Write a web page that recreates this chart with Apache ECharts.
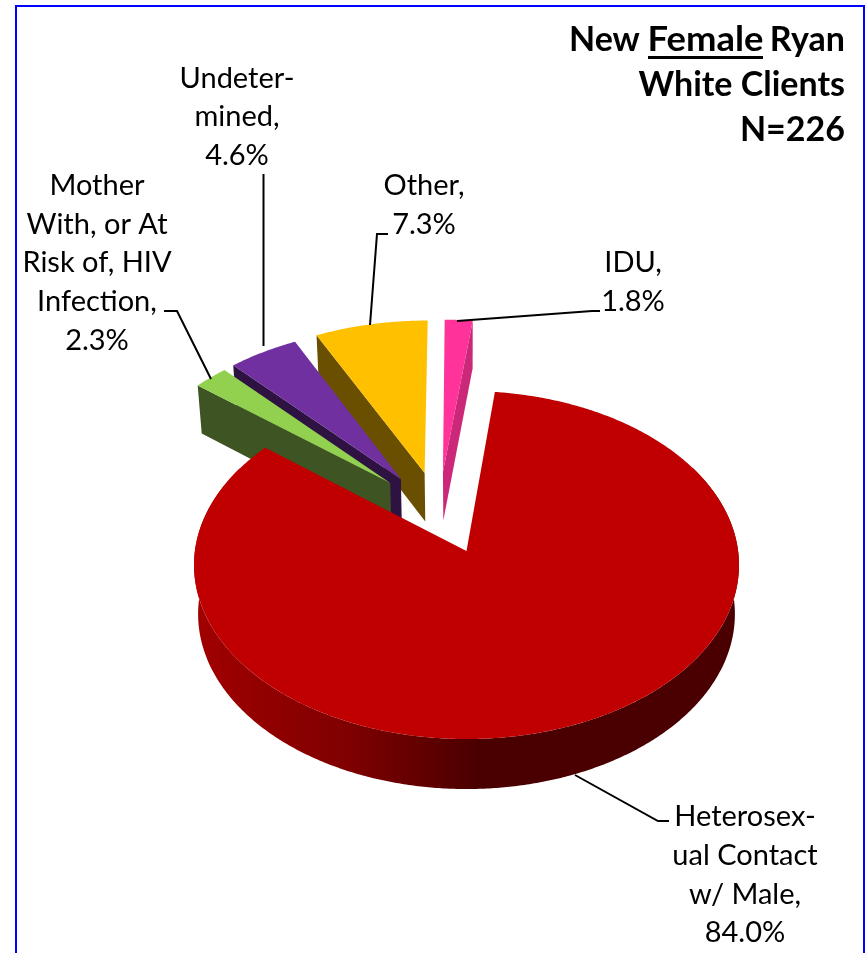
<!DOCTYPE html>
<html>
<head>
<meta charset="utf-8">
<title>New Female Ryan White Clients</title>
<style>
html, body { margin: 0; padding: 0; background: #fff; }
#chart { width: 868px; height: 953px; }
</style>
<script src="https://cdn.jsdelivr.net/npm/echarts@6/dist/echarts.min.js"></script>
</head>
<body>
<div id="chart"></div>
<script>
// data, clockwise from 12 o'clock
var categories = ['IDU', 'Heterosexual Contact w/ Male', 'Mother With, or At Risk of, HIV Infection', 'Undetermined', 'Other']
var percents = [1.8, 84.0, 2.3, 4.6, 7.3]
var labelNames = ['IDU,', 'Heterosex-\nual Contact\nw/ Male,', 'Mother\nWith, or At\nRisk of, HIV\nInfection,', 'Undeter-\nmined,', 'Other,']
var titleLines = ['White Clients', 'N=226']

// slice looks
var topColors = ['#FF3399', '#C00000', '#92D050', '#7030A0', '#FFC000']
var wallColors = ['#CC287A', '#4A0000', '#3E5423', '#2E1242', '#6A4F00']
var layerOrder = [1, 4, 3, 2, 1]
// how far each slice is pulled out, in pie radius units [right, back]
var explode = [[-0.09, 0.474], [0, 0], [-0.29, 0.406], [-0.25, 0.431], [-0.16, 0.468]]
// slices further back look a bit longer in the original
var sliceReach = [1.025, 1, 1.005, 1.015, 1.025]

// label placement: text center and leader line
var labelCenter = [[633, 282], [745, 875], [97, 263], [237, 117], [424, 205]]
var leaderLines = [
    [[457, 321], [592, 311], [600, 311]],
    [[575, 775], [658, 821], [669, 821]],
    [[211, 379], [177, 311], [164, 311]],
    [[263.5, 346], [263.5, 174]],
    [[370, 325], [377, 234], [388, 234]]
]

// perspective of the pie plane
var cx = 466.5
var cy = 551
var radiusX = 271.6
var radiusY = 172.9
var persp = 0.0805
var wallHeight = 49
var bottomScale = 0.985
var lineH = 38.6

function project (u, v, bottom) {
    var d = 1 + persp * v
    var s = bottom ? bottomScale : 1
    var x = cx + s * radiusX * u / d
    var y = cy - radiusY * v / d
    if (bottom) y += wallHeight * (1 - 0.02 * v)
    return [x, y]
}

function rimPoint (deg, off, reach, bottom) {
    var a = deg * Math.PI / 180
    return project(off[0] + reach * Math.sin(a), off[1] + reach * Math.cos(a), bottom)
}

var total = percents.reduce(function (a, b) { return a + b }, 0)

function renderSlice (params, api) {
    var i = params.dataIndex
    var before = 0
    for (var j = 0; j < i; j++) before += percents[j]
    var start = before / total * 360
    var end = (before + api.value(0)) / total * 360
    var off = explode[i]
    var reach = sliceReach[i]
    var kids = []

    var face = [project(off[0], off[1], false)]
    for (var d = start; d < end; d += 0.5) face.push(rimPoint(d, off, reach, false))
    face.push(rimPoint(end, off, reach, false))

    if (off[0] === 0 && off[1] === 0) {
        // not pulled out: only the round front wall shows
        var upper = []
        var lower = []
        for (var d2 = Math.max(start, 60); d2 <= Math.min(end, 300); d2 += 0.5) {
            upper.push(rimPoint(d2, off, reach, false))
            lower.unshift(rimPoint(d2, off, reach, true))
        }
        kids.push({
            type: 'polygon',
            z2: layerOrder[i],
            shape: { points: upper.concat(lower) },
            style: {
                fill: new echarts.graphic.LinearGradient(199, 0, 736, 0, [
                    { offset: 0, color: '#A00000' },
                    { offset: 0.28, color: '#7F0000' },
                    { offset: 0.52, color: '#4A0000' },
                    { offset: 1, color: '#4A0000' }
                ], true)
            }
        })
    } else {
        // pulled out: the cut side facing us shows
        var edge = start > 180 ? start : end
        kids.push({
            type: 'polygon',
            z2: layerOrder[i],
            shape: {
                points: [
                    project(off[0], off[1], false),
                    rimPoint(edge, off, reach, false),
                    rimPoint(edge, off, reach, true),
                    project(off[0], off[1], true)
                ]
            },
            style: { fill: wallColors[i] }
        })
    }

    kids.push({
        type: 'polygon',
        z2: layerOrder[i],
        shape: { points: face },
        style: { fill: topColors[i] }
    })

    // label and leader
    kids.push({
        type: 'polyline',
        z2: 6,
        shape: { points: leaderLines[i] },
        style: { fill: null, stroke: '#000', lineWidth: 2 }
    })
    kids.push({
        type: 'text',
        z2: 7,
        x: labelCenter[i][0],
        y: labelCenter[i][1],
        style: {
            text: labelNames[i] + '\n' + api.value(0).toFixed(1) + '%',
            font: '29px Lato',
            fill: '#000',
            align: 'center',
            verticalAlign: 'middle',
            lineHeight: lineH
        }
    })
    return { type: 'group', children: kids }
}

var titleFont = 'bold 34px Lato'
var myChart = echarts.init(document.getElementById('chart'), null, { renderer: 'canvas' })
myChart.setOption({
    backgroundColor: '#fff',
    animation: false,
    graphic: [
        // frame, open at the bottom
        {
            type: 'polyline',
            silent: true,
            shape: { points: [[16, 953], [16, 6], [864, 6], [864, 953]] },
            style: { fill: null, stroke: '#0000FF', lineWidth: 2 }
        },
        { type: 'text', x: 845, y: 40, style: { text: 'Ryan', font: titleFont, fill: '#000', align: 'right', verticalAlign: 'middle' } },
        { type: 'text', x: 705.5, y: 40, scaleX: 1.07, style: { text: 'Female', font: titleFont, fill: '#000', align: 'center', verticalAlign: 'middle' } },
        { type: 'text', x: 569, y: 40, style: { text: 'New', font: titleFont, fill: '#000', align: 'left', verticalAlign: 'middle' } },
        { type: 'rect', shape: { x: 648, y: 56, width: 115, height: 3 }, style: { fill: '#000' } },
        { type: 'text', x: 845, y: 85, style: { text: titleLines[0], font: titleFont, fill: '#000', align: 'right', verticalAlign: 'middle' } },
        { type: 'text', x: 845, y: 130, style: { text: titleLines[1], font: titleFont, fill: '#000', align: 'right', verticalAlign: 'middle' } }
    ],
    series: [
        {
            type: 'custom',
            coordinateSystem: 'none',
            silent: true,
            renderItem: renderSlice,
            data: percents.map(function (p, i) { return { name: categories[i], value: [p] } })
        }
    ]
})
</script>
</body>
</html>
